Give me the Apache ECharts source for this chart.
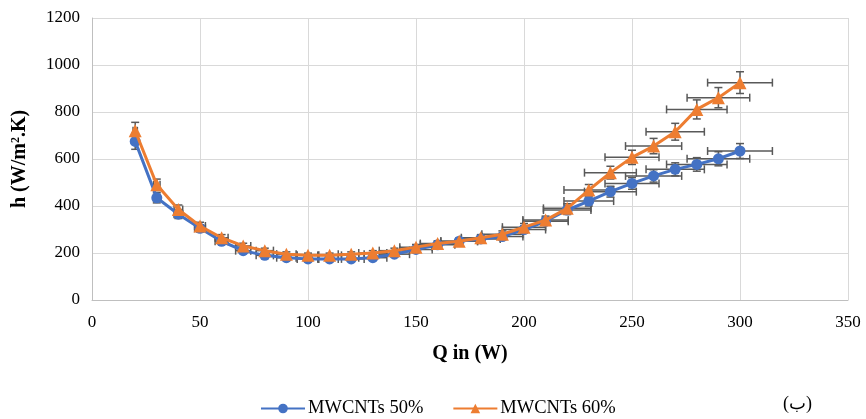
<!DOCTYPE html>
<html>
<head>
    <meta charset="utf-8" />
    <title>ECharts</title>
    <script src="https://cdn.jsdelivr.net/npm/echarts@6/dist/echarts.min.js"></script>
</head>
<body style="margin:0">
    <div id="main" style="width: 866px;height:419px;"></div>

    <script type="text/javascript">
        // heat input Q (W)
        var qValues = [20, 30, 40, 50, 60, 70, 80, 90, 100, 110, 120, 130, 140, 150, 160,
            170, 180, 190, 200, 210, 220, 230, 240, 250, 260, 270, 280, 290, 300];
        // h (W/m2.K)
        var h50 = [675, 435, 365, 305, 250, 210, 190, 180, 175, 175, 175, 180, 195, 215, 235,
            250, 260, 270, 300, 335, 383, 421, 461, 496, 528, 556, 577, 601, 634];
        var h60 = [720, 490, 385, 315, 265, 230, 210, 195, 190, 190, 195, 200, 210, 225, 240,
            250, 265, 280, 310, 340, 390, 468, 542, 607, 655, 716, 811, 861, 925];
        var errPct = 0.05;

        var font = 'Liberation Serif';

        function pairs(ys) {
            return qValues.map(function (q, i) { return [q, ys[i]]; });
        }
        function errData(ys) {
            return qValues.map(function (q, i) { return [q, ys[i], q * errPct, ys[i] * errPct]; });
        }

        function renderErr(params, api) {
            var x = api.value(0), y = api.value(1), dx = api.value(2), dy = api.value(3);
            var c = api.coord([x, y]);
            var l = api.coord([x - dx, y]), r = api.coord([x + dx, y]);
            var t = api.coord([x, y + dy]), b = api.coord([x, y - dy]);
            var cap = 4;
            var st = { stroke: '#595959', lineWidth: 1.5 };
            var lines = [
                [l[0], c[1], r[0], c[1]],
                [l[0], c[1] - cap, l[0], c[1] + cap],
                [r[0], c[1] - cap, r[0], c[1] + cap],
                [c[0], t[1], c[0], b[1]],
                [c[0] - cap, t[1], c[0] + cap, t[1]],
                [c[0] - cap, b[1], c[0] + cap, b[1]]
            ];
            return {
                type: 'group',
                children: lines.map(function (p) {
                    return { type: 'line', shape: { x1: p[0], y1: p[1], x2: p[2], y2: p[3] }, style: st };
                })
            };
        }

        var myChart = echarts.init(document.getElementById('main'));

        var option = {
            backgroundColor: '#fff',
            animation: false,
            grid: { left: 92, right: 18, top: 18, bottom: 119 },
            legend: {
                top: 394,
                left: 255,
                itemGap: 29,
                itemWidth: 44,
                itemHeight: 12,
                textStyle: { fontFamily: font, fontSize: 18.5, color: '#000', padding: [0, 0, 0, -2] },
                data: ['MWCNTs 50%', 'MWCNTs 60%']
            },
            xAxis: {
                type: 'value',
                min: 0, max: 350, interval: 50,
                name: 'Q in (W)',
                nameLocation: 'middle',
                nameGap: 44,
                nameTextStyle: { fontFamily: font, fontSize: 20, fontWeight: 'bold', color: '#000' },
                axisLine: { lineStyle: { color: '#bfbfbf' } },
                axisTick: { show: false },
                axisLabel: { fontFamily: font, fontSize: 17, color: '#000', margin: 14 },
                splitLine: { lineStyle: { color: '#d9d9d9' } }
            },
            yAxis: {
                type: 'value',
                min: 0, max: 1200, interval: 200,
                name: 'h (W/m{sup|2}.K)',
                nameLocation: 'middle',
                nameGap: 62,
                nameTextStyle: {
                    fontFamily: font, fontSize: 20, fontWeight: 'bold', color: '#000',
                    rich: {
                        sup: { fontFamily: font, fontSize: 12, fontWeight: 'bold', color: '#000', verticalAlign: 'top', padding: [0, 0, 8, 0] }
                    }
                },
                axisLine: { show: true, lineStyle: { color: '#bfbfbf' } },
                axisTick: { show: false },
                axisLabel: { fontFamily: font, fontSize: 17, color: '#000', margin: 12, formatter: function (v) { return String(v); } },
                splitLine: { lineStyle: { color: '#d9d9d9' } }
            },
            graphic: [{
                type: 'text',
                left: 783, top: 395,
                style: { text: '(ب)', font: '18px ' + font, fill: '#000' }
            }],
            series: [
                {
                    type: 'custom',
                    renderItem: renderErr,
                    data: errData(h50),
                    encode: { x: 0, y: 1 },
                    z: 1,
                    silent: true
                },
                {
                    type: 'custom',
                    renderItem: renderErr,
                    data: errData(h60),
                    encode: { x: 0, y: 1 },
                    z: 1,
                    silent: true
                },
                {
                    name: 'MWCNTs 50%',
                    type: 'line',
                    data: pairs(h50),
                    symbol: 'circle',
                    symbolSize: 11,
                    color: '#4472C4',
                    lineStyle: { width: 3 },
                    z: 2
                },
                {
                    name: 'MWCNTs 60%',
                    type: 'line',
                    data: pairs(h60),
                    symbol: 'triangle',
                    symbolSize: 13,
                    color: '#ED7D31',
                    lineStyle: { width: 3 },
                    z: 3
                }
            ]
        };

        myChart.setOption(option);
    </script>
</body>
</html>
